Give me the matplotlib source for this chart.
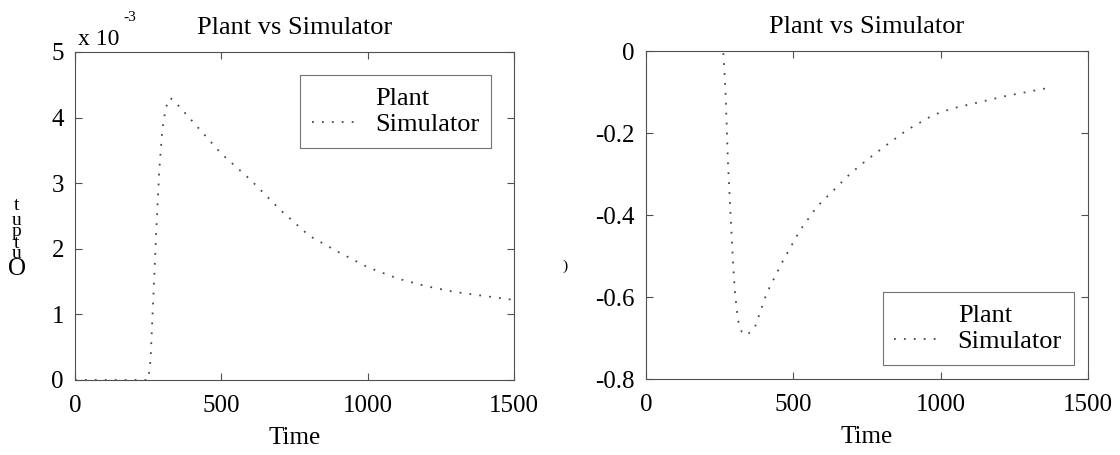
"""Plant vs Simulator step responses (two panels), redrawn from a scanned figure."""
import numpy as np
import matplotlib
matplotlib.use("Agg")
import matplotlib.pyplot as plt

plt.rcParams["font.family"] = ["Liberation Serif", "DejaVu Serif"]
plt.rcParams["font.size"] = 18

# left panel: output, scaled by 1e-3
t_left = [0, 250, 258, 268, 278, 288, 298, 310, 325, 340, 400, 500, 600,
          700, 800, 900, 1000, 1100, 1200, 1300, 1400, 1500]
sim_left = [0, 0, 0.3, 1.3, 2.3, 3.2, 3.8, 4.15, 4.3, 4.25, 3.95, 3.45, 3.05,
            2.6, 2.2, 1.95, 1.72, 1.55, 1.43, 1.34, 1.28, 1.22]

# right panel
t_right = [0, 262, 270, 278, 287, 295, 302, 312, 325, 343, 370, 410, 466,
           523, 580, 636, 692, 749, 817, 885, 975, 1040, 1220, 1380]
sim_right = [0, 0, -0.1, -0.27, -0.40, -0.51, -0.59, -0.656, -0.685, -0.693,
             -0.673, -0.59, -0.51, -0.437, -0.38, -0.34, -0.30, -0.266,
             -0.229, -0.193, -0.156, -0.14, -0.11, -0.088]

x_ticks = [0, 500, 1000, 1500]
left_yticks = [0, 1, 2, 3, 4, 5]
right_yticks = [-0.8, -0.6, -0.4, -0.2, 0]
TITLE = "Plant vs Simulator"
EDGE = "#505050"
DOT = "#4a4a4a"

W, H = 1120, 455
fig = plt.figure(figsize=(W / 100, H / 100), dpi=100)


def px_axes(x0, x1, y0, y1):
    return fig.add_axes([x0 / W, 1 - y1 / H, (x1 - x0) / W, (y1 - y0) / H])


def style(ax):
    for sp in ax.spines.values():
        sp.set_color(EDGE)
        sp.set_linewidth(0.8)
    ax.tick_params(direction="in", length=5, width=0.8, color=EDGE,
                   top=True, right=True, labelsize=18, pad=8)
    ax.tick_params(axis="x", pad=11)
    ax.set_xlim(0, 1500)
    ax.set_xticks(x_ticks)
    ax.set_xlabel("Time", fontsize=18, labelpad=7)
    ax.set_title(TITLE, fontsize=19, pad=13)


def add_legend(ax, **kw):
    leg = ax.legend(fontsize=19, frameon=True, fancybox=False, handlelength=1.6,
                    handletextpad=0.8, borderpad=0.45, labelspacing=0.1,
                    borderaxespad=0, **kw)
    leg.get_frame().set_edgecolor(EDGE)
    leg.get_frame().set_linewidth(0.8)
    return leg


ax1 = px_axes(75, 514, 52, 380)
ax1.plot(t_left, sim_left, color="white", lw=1.0, zorder=1, label="Plant")
ax1.plot(t_left, sim_left, color=DOT, lw=1.3, ls=(0, (1, 4.5)), label="Simulator")
style(ax1)
ax1.set_ylim(0, 5)
ax1.set_yticks(left_yticks)
add_legend(ax1, loc="upper right", bbox_to_anchor=(0.948, 0.93))

# multiplier written above the axis corner
fig.text(78 / W, 1 - 45 / H, "x 10", fontsize=17, ha="left", va="baseline")
fig.text(123 / W, 1 - 21 / H, "-3", fontsize=11, ha="left", va="baseline")

# garbled stacked y label from the scan
for ch, yc, fs in zip("Output", [269, 254, 243, 231, 220, 206],
                      [18, 14, 14, 14, 14, 14]):
    fig.text(17 / W, 1 - yc / H, ch, fontsize=fs, ha="center", va="center")

ax2 = px_axes(646, 1088, 51, 379)
ax2.plot(t_right, sim_right, color="white", lw=1.0, zorder=1, label="Plant")
ax2.plot(t_right, sim_right, color=DOT, lw=1.3, ls=(0, (1, 4.5)), label="Simulator")
style(ax2)
ax2.set_ylim(-0.8, 0)
ax2.set_yticks(right_yticks)
ax2.set_yticklabels(["-0.8", "-0.6", "-0.4", "-0.2", "0"])
add_legend(ax2, loc="lower right", bbox_to_anchor=(0.968, 0.043))

fig.text(565 / W, 1 - 266 / H, ")", fontsize=11, ha="center", va="center")

fig.savefig("out.png", dpi=100, facecolor="white")
